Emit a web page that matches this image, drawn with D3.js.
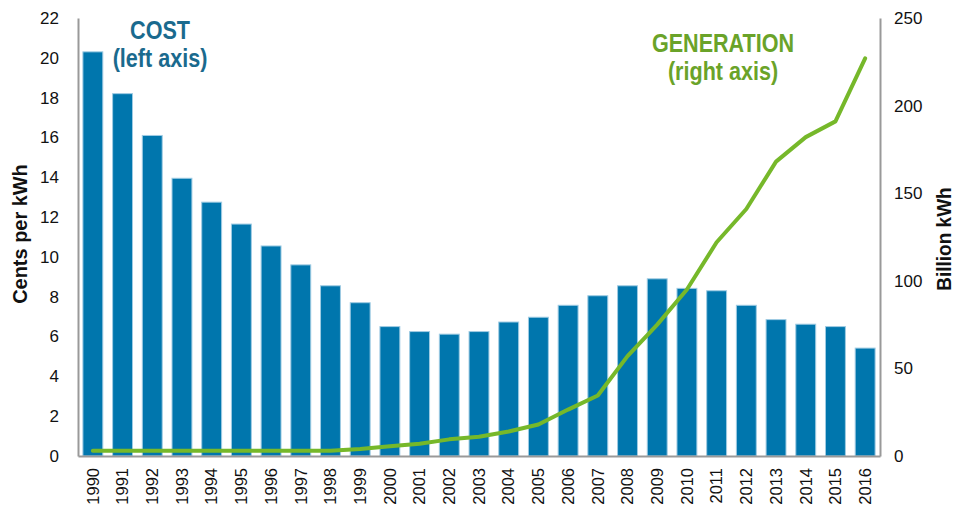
<!DOCTYPE html>
<html>
<head>
<meta charset="utf-8">
<script src="https://cdn.jsdelivr.net/npm/d3@7"></script>
<style>
  body { margin: 0; background: #fff; }
  text { font-family: "Liberation Sans", Arial, sans-serif; }
</style>
</head>
<body>
<div id="chart"></div>
<script>
// chart data
var years = ["1990","1991","1992","1993","1994","1995","1996","1997","1998","1999",
             "2000","2001","2002","2003","2004","2005","2006","2007","2008","2009",
             "2010","2011","2012","2013","2014","2015","2016"]
var cost = [20.3, 18.2, 16.1, 13.95, 12.75, 11.65, 10.55, 9.6, 8.55, 7.7,
            6.5, 6.25, 6.12, 6.25, 6.73, 6.97, 7.57, 8.05, 8.55, 8.9,
            8.42, 8.3, 7.57, 6.85, 6.62, 6.5, 5.42]
var generation = [3, 3, 3, 3, 3, 3, 3, 3, 3, 4,
                  5.5, 7, 9.5, 11, 14, 18, 26.5, 34.5, 57, 75,
                  95, 122, 141, 168, 182, 191, 227]
var leftTicks = [0, 2, 4, 6, 8, 10, 12, 14, 16, 18, 20, 22]
var rightTicks = [0, 50, 100, 150, 200, 250]

// set the dimensions of the plot area
var width = 956,
    height = 508,
    plotLeft = 78,
    plotRight = 880,
    plotTop = 18,
    plotBottom = 456

var svg = d3.select("#chart")
    .append("svg")
        .attr("width", width)
        .attr("height", height)

var x = d3.scaleBand()
    .domain(years)
    .range([plotLeft, plotRight])
    .paddingInner(0.33)
    .paddingOuter(0.165)

var yLeft = d3.scaleLinear().domain([0, 22]).range([plotBottom, plotTop])
var yRight = d3.scaleLinear().domain([0, 250]).range([plotBottom, plotTop])

// bars (cost)
svg.selectAll("rect.bar")
    .data(years)
    .enter()
    .append("rect")
        .attr("class", "bar")
        .attr("x", function(d) { return x(d) })
        .attr("width", x.bandwidth())
        .attr("y", function(d, i) { return yLeft(cost[i]) })
        .attr("height", function(d, i) { return plotBottom - yLeft(cost[i]) })
        .attr("fill", "#0076ad")
        .attr("stroke", "#9fcbe3")
        .attr("stroke-width", 1)

// left axis
var axL = svg.append("g")
    .attr("transform", "translate(" + plotLeft + ",0)")
    .call(d3.axisLeft(yLeft).tickValues(leftTicks).tickSize(0).tickPadding(19))
axL.select(".domain").attr("stroke", "#999").attr("stroke-width", 2)
axL.selectAll("text").attr("font-size", 17).attr("fill", "#111")
    .style("font-family", "'Liberation Sans', Arial, sans-serif")

// right axis
var axR = svg.append("g")
    .attr("transform", "translate(" + plotRight + ",0)")
    .call(d3.axisRight(yRight).tickValues(rightTicks).tickSize(0).tickPadding(14))
axR.select(".domain").attr("stroke", "#999").attr("stroke-width", 2)
axR.selectAll("text").attr("font-size", 17).attr("fill", "#111")
    .style("font-family", "'Liberation Sans', Arial, sans-serif")

// bottom axis
var axB = svg.append("g")
    .attr("transform", "translate(0," + plotBottom + ")")
    .call(d3.axisBottom(x).tickSize(0).tickPadding(0))
axB.select(".domain").attr("stroke", "#999").attr("stroke-width", 2)
axB.selectAll("text")
    .attr("font-size", 16.5)
    .attr("fill", "#111")
    .style("font-family", "'Liberation Sans', Arial, sans-serif")
    .attr("transform", "rotate(-90)")
    .attr("text-anchor", "end")
    .attr("x", -12)
    .attr("y", 0)
    .attr("dy", "0.35em")

// generation line
var line = d3.line()
    .x(function(d, i) { return x(years[i]) + x.bandwidth() / 2 })
    .y(function(d) { return yRight(d) })

svg.append("path")
    .datum(generation)
    .attr("d", line)
    .attr("fill", "none")
    .attr("stroke", "#76b82a")
    .attr("stroke-width", 4)
    .attr("stroke-linejoin", "round")
    .attr("stroke-linecap", "round")

// axis titles
svg.append("text")
    .attr("transform", "translate(27,234) rotate(-90) scale(0.95,1)")
    .attr("text-anchor", "middle")
    .attr("font-size", 21)
    .attr("font-weight", "bold")
    .attr("fill", "#111")
    .text("Cents per kWh")

svg.append("text")
    .attr("transform", "translate(951,239) rotate(-90) scale(0.95,1)")
    .attr("text-anchor", "middle")
    .attr("font-size", 20)
    .attr("font-weight", "bold")
    .attr("fill", "#111")
    .text("Billion kWh")

// series labels
var costLabel = svg.append("text")
    .attr("transform", "translate(160,0) scale(0.83,1)")
    .attr("text-anchor", "middle")
    .attr("font-size", 26)
    .attr("font-weight", "bold")
    .attr("fill", "#1a6a8e")
costLabel.append("tspan").attr("x", 0).attr("y", 39).text("COST")
costLabel.append("tspan").attr("x", 0).attr("y", 67).text("(left axis)")

var genLabel = svg.append("text")
    .attr("transform", "translate(723,0) scale(0.83,1)")
    .attr("text-anchor", "middle")
    .attr("font-size", 26)
    .attr("font-weight", "bold")
    .attr("fill", "#6aa329")
genLabel.append("tspan").attr("x", 0).attr("y", 52).text("GENERATION")
genLabel.append("tspan").attr("x", 0).attr("y", 80).text("(right axis)")
</script>
</body>
</html>
